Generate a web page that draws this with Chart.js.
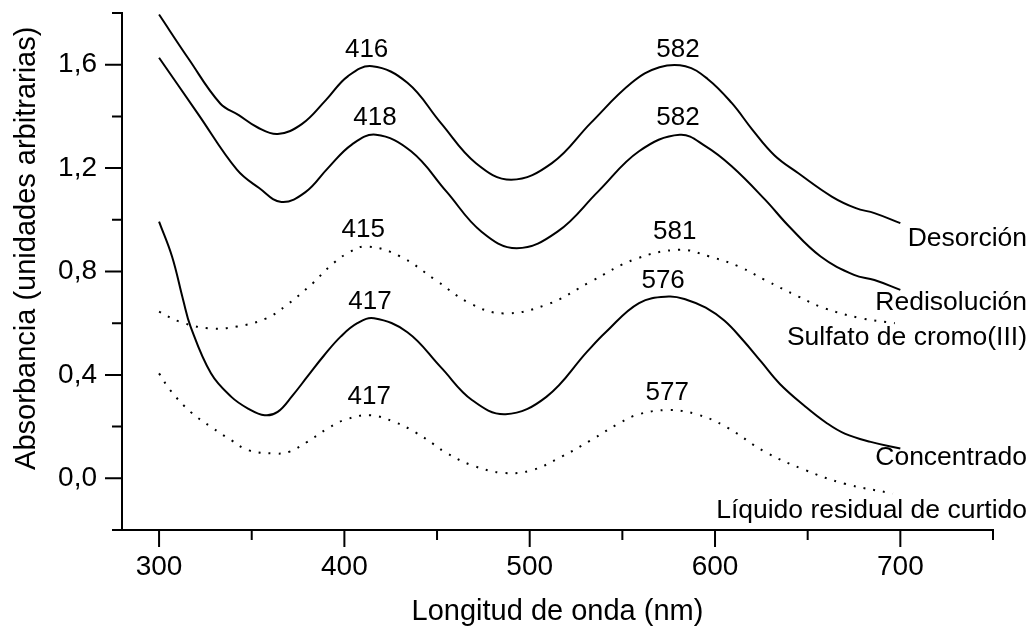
<!DOCTYPE html>
<html>
<head>
<meta charset="utf-8">
<script src="https://cdn.jsdelivr.net/npm/chart.js@4/dist/chart.umd.min.js"></script>
<style>
  body { margin: 0; background: #fff; }
  canvas { display: block; }
</style>
</head>
<body>
<canvas id="spectra" width="1034" height="629"></canvas>
<script>
// Spectra: wavelength (nm) -> absorbance (arbitrary units)
const desorcionNm = [300, 316, 333, 343, 353, 364, 377, 390, 402, 415, 434, 452, 471, 490, 512, 533, 555, 570, 584, 596, 609, 620, 632, 645, 663, 676, 686, 700];
const desorcionAbs = [1.794, 1.622, 1.45, 1.405, 1.358, 1.332, 1.37, 1.463, 1.556, 1.594, 1.53, 1.375, 1.219, 1.155, 1.219, 1.375, 1.53, 1.59, 1.594, 1.545, 1.452, 1.35, 1.25, 1.18, 1.09, 1.045, 1.026, 0.987];

const redisolucionNm = [300, 321, 342, 354, 366, 379, 391, 404, 417, 436, 455, 474, 493, 515, 537, 559, 581, 595, 609, 627, 640, 657, 675, 686, 700];
const redisolucionAbs = [1.627, 1.41, 1.194, 1.123, 1.069, 1.107, 1.199, 1.291, 1.329, 1.265, 1.11, 0.954, 0.89, 0.954, 1.11, 1.265, 1.329, 1.284, 1.207, 1.078, 0.974, 0.858, 0.787, 0.767, 0.729];

const sulfatoNm = [300, 311, 327, 342, 358, 369, 383, 392, 402, 412, 430, 449, 468, 486, 510, 533, 557, 581, 597, 613, 627, 645, 659, 679, 697];
const sulfatoAbs = [0.645, 0.606, 0.58, 0.587, 0.619, 0.671, 0.755, 0.819, 0.872, 0.897, 0.859, 0.768, 0.676, 0.638, 0.674, 0.761, 0.848, 0.884, 0.858, 0.819, 0.767, 0.703, 0.658, 0.619, 0.6];

const concentradoNm = [300, 307, 313, 317, 328, 339, 348, 357, 364, 372, 380, 389, 398, 407, 416, 434, 452, 469, 487, 509, 531, 541, 559, 575, 585, 595, 605, 615, 625, 635, 649, 660, 670, 684, 700];
const concentradoAbs = [0.993, 0.858, 0.69, 0.587, 0.406, 0.315, 0.27, 0.244, 0.257, 0.32, 0.393, 0.475, 0.548, 0.6, 0.619, 0.565, 0.43, 0.302, 0.248, 0.315, 0.49, 0.565, 0.678, 0.703, 0.69, 0.66, 0.61, 0.535, 0.45, 0.365, 0.276, 0.215, 0.173, 0.141, 0.115];

const liquidoNm = [300, 306, 317, 328, 339, 348, 362, 370, 380, 391, 401, 414, 427, 438, 449, 454, 469, 486, 501, 517, 533, 548, 559, 575, 590, 606, 627, 649, 670, 696];
const liquidoAbs = [0.406, 0.341, 0.257, 0.199, 0.147, 0.109, 0.096, 0.102, 0.141, 0.193, 0.228, 0.244, 0.218, 0.179, 0.128, 0.102, 0.05, 0.021, 0.031, 0.083, 0.147, 0.212, 0.248, 0.264, 0.248, 0.199, 0.102, 0.031, -0.021, -0.059];

// curve names written at the right edge, and the absorbance each one sits at
const seriesNames = ['Desorción', 'Redisolución', 'Sulfato de cromo(III)', 'Concentrado', 'Líquido residual de curtido'];
const nameLevels = [0.926, 0.680, 0.544, 0.079, -0.124];

// peak maxima labels (text, wavelength, absorbance where the text goes)
const peakTexts = ['416', '582', '418', '582', '415', '581', '417', '576', '417', '577'];
const peakNm = [412, 580, 416.5, 580, 410.2, 578.3, 413.8, 572, 413.4, 574.2];
const peakAbs = [1.659, 1.659, 1.395, 1.395, 0.961, 0.955, 0.683, 0.765, 0.315, 0.331];

const xTickValues = [300, 350, 400, 450, 500, 550, 600, 650, 700, 750];
const yTickValues = [-0.2, 0, 0.2, 0.4, 0.6, 0.8, 1.0, 1.2, 1.4, 1.6, 1.8];

const yTitle = 'Absorbancia (unidades arbitrarias)';
const FONT = '"Liberation Sans", Arial, sans-serif';

function makeSeries(label, xs, ys, dotted) {
  return {
    label: label,
    data: xs.map((v, i) => ({ x: v, y: ys[i] })),
    borderColor: '#000',
    borderWidth: 2,
    borderDash: dotted ? [2, 8] : [],
    pointRadius: 0,
    showLine: true,
    fill: false,
    tension: 0.4
  };
}

const isMajorY = v => Math.round(v * 10) % 4 === 0;

// Origin-style ticks: long on labelled values, short in between, pointing outward
const tickMarks = {
  id: 'tickMarks',
  afterDraw(chart) {
    const { ctx, chartArea, scales: { x, y } } = chart;
    ctx.save();
    ctx.strokeStyle = '#000';
    ctx.lineWidth = 2;
    ctx.beginPath();
    x.ticks.forEach(t => {
      const px = x.getPixelForValue(t.value);
      const len = t.value % 100 === 0 ? 17 : 10;
      ctx.moveTo(px, chartArea.bottom);
      ctx.lineTo(px, chartArea.bottom + len);
    });
    y.ticks.forEach(t => {
      const py = y.getPixelForValue(t.value);
      ctx.moveTo(chartArea.left, py);
      ctx.lineTo(chartArea.left - (isMajorY(t.value) ? 17 : 10), py);
    });
    ctx.stroke();

    // y title sits a bit above the axis middle in the original
    ctx.fillStyle = '#000';
    ctx.font = '29px ' + FONT;
    ctx.textAlign = 'center';
    ctx.textBaseline = 'middle';
    ctx.translate(27, y.getPixelForValue(0.89));
    ctx.rotate(-Math.PI / 2);
    ctx.fillText(yTitle, 0, 0);
    ctx.restore();
  }
};

const textLabels = {
  id: 'textLabels',
  afterDatasetsDraw(chart) {
    const { ctx, scales: { x, y } } = chart;
    ctx.save();
    ctx.fillStyle = '#000';
    ctx.textBaseline = 'middle';
    ctx.font = '26px ' + FONT;
    ctx.textAlign = 'center';
    peakTexts.forEach((txt, i) => {
      ctx.fillText(txt, x.getPixelForValue(peakNm[i]), y.getPixelForValue(peakAbs[i]));
    });
    ctx.font = '26.5px ' + FONT;
    ctx.textAlign = 'right';
    seriesNames.forEach((name, i) => {
      ctx.fillText(name, chart.width - 7, y.getPixelForValue(nameLevels[i]));
    });
    ctx.restore();
  }
};

new Chart(document.getElementById('spectra'), {
  type: 'scatter',
  data: {
    datasets: [
      makeSeries(seriesNames[0], desorcionNm, desorcionAbs, false),
      makeSeries(seriesNames[1], redisolucionNm, redisolucionAbs, false),
      makeSeries(seriesNames[2], sulfatoNm, sulfatoAbs, true),
      makeSeries(seriesNames[3], concentradoNm, concentradoAbs, false),
      makeSeries(seriesNames[4], liquidoNm, liquidoAbs, true)
    ]
  },
  options: {
    responsive: false,
    animation: false,
    layout: { padding: { top: 13, right: 41, left: 0, bottom: 0 } },
    plugins: { legend: { display: false }, tooltip: { enabled: false } },
    scales: {
      x: {
        type: 'linear',
        min: 280,
        max: 750,
        afterBuildTicks: s => { s.ticks = xTickValues.map(v => ({ value: v })); },
        afterFit: s => { s.height = 99; s.paddingLeft = 0; s.paddingRight = 0; },
        grid: { drawOnChartArea: false, tickLength: 17, tickColor: 'transparent' },
        border: { display: true, color: '#000', width: 2 },
        ticks: {
          autoSkip: false,
          maxRotation: 0,
          padding: 3,
          color: '#000',
          font: { family: FONT, size: 28 },
          callback: v => (v % 100 === 0 ? String(v) : '')
        },
        title: {
          display: true,
          text: 'Longitud de onda (nm)',
          color: '#000',
          font: { family: FONT, size: 29 },
          padding: { top: 0, bottom: 0 }
        }
      },
      y: {
        type: 'linear',
        min: -0.2,
        max: 1.8,
        afterBuildTicks: s => { s.ticks = yTickValues.map(v => ({ value: v })); },
        afterFit: s => { s.width = 122; s.paddingTop = 0; s.paddingBottom = 0; },
        grid: { drawOnChartArea: false, tickLength: 17, tickColor: 'transparent' },
        border: { display: true, color: '#000', width: 2 },
        ticks: {
          autoSkip: false,
          padding: 8,
          color: '#000',
          font: { family: FONT, size: 28 },
          callback: v => (isMajorY(v) ? v.toFixed(1).replace('.', ',') : '')
        },
        title: { display: false }
      }
    }
  },
  plugins: [tickMarks, textLabels]
});
</script>
</body>
</html>
